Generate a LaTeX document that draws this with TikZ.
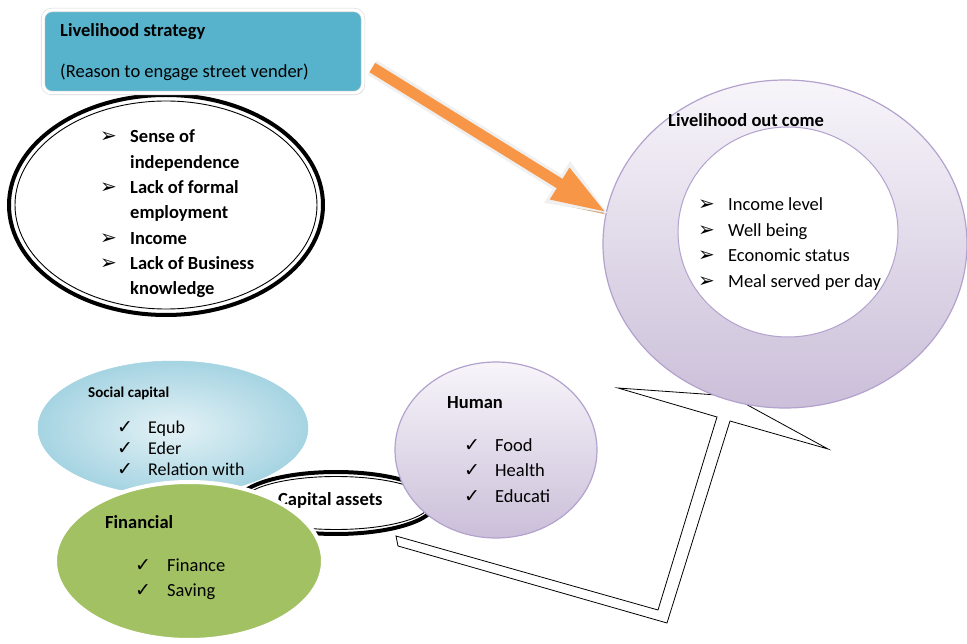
\documentclass[tikz,border=0pt]{standalone}
\usepackage{fontspec}
\setmainfont{Carlito}
\newfontfamily\dingfont{DejaVu Sans}
\usetikzlibrary{positioning,shapes.geometric,arrows.meta,shadows}

\definecolor{stratblue}{HTML}{56B3CB}
\definecolor{ringtop}{HTML}{F7F5FA}
\definecolor{ringbot}{HTML}{CBBFD9}
\definecolor{ringline}{HTML}{B2A2CD}
\definecolor{arroworange}{HTML}{F79646}
\definecolor{arrowshadow}{HTML}{D3AE88}
\definecolor{socialin}{HTML}{E4F2F6}
\definecolor{socialout}{HTML}{A6D4E2}
\definecolor{fingreen}{HTML}{A2C163}

\newcommand\arrmark{{\dingfont\fontsize{20}{20}\selectfont\char"27A2}}
\newcommand\chkmark{{\dingfont\fontsize{19}{19}\selectfont\char"2713}}

\begin{document}
\begin{tikzpicture}[x=1pt,y=-1pt,
  oval/.style={ellipse,inner sep=0pt,outer sep=0pt},
  ringfill/.style={oval,top color=ringtop,bottom color=ringbot,draw=ringline,line width=1.2pt},
  blackoval/.style={oval,draw=black,line width=#1},
  bodytext/.style={inner sep=0pt,font=\fontsize{18.5}{22}\selectfont},
  boldtext/.style={bodytext,font=\fontsize{18.5}{22}\selectfont\bfseries},
  smalltext/.style={inner sep=0pt,font=\fontsize{18}{21}\selectfont},
  bigarrow/.style={line width=11pt,-{Triangle[length=55pt,width=34pt]}},
]
\useasboundingbox (0,0) rectangle (967,644);

% ==== reasons (black oval) ====
\node[blackoval=4pt,minimum width=314pt,minimum height=220pt] (reasons) at (166,205) {};
\node[blackoval=0.9pt,minimum width=302pt,minimum height=208pt] (reasonsin) at (166,205) {};
\begin{scope}
  \clip (0,0) rectangle (967,298);
  \foreach \mk/\txt [count=\i] in {1/Sense of,0/independence,1/Lack of formal,0/employment,1/Income,1/Lack of Business,0/knowledge}{
    \node[boldtext,anchor=base west] (rsn\i) at (130,{143+25.3*(\i-1)}) {\txt};
    \ifnum\mk=1 \node[bodytext,anchor=base west] (rsnmk\i) at (100,{143+25.3*(\i-1)}) {\arrmark}; \fi
  }
\end{scope}

% ==== strategy box ====
\node[rectangle,rounded corners=9pt,fill=stratblue,draw=gray!30,line width=0.6pt,double=white,double distance=3pt,
  drop shadow={shadow xshift=1.5pt,shadow yshift=-2pt,fill=gray!45},
  minimum width=320pt,minimum height=83pt] (strategy) at (203,51.5) {};
\node[boldtext,anchor=base west] (strathead) at (60,37) {Livelihood strategy};
\node[bodytext,anchor=base west] (stratsub) at (60,78) {(Reason to engage street vender)};

% ==== callout to outcome ====
\draw[black,line width=0.8pt,fill=white,line join=miter]
  (731,396) -- (618,388) -- (717,417) -- (658,610) -- (396,536) -- (398,546)
  -- (667,623) -- (730,421) -- (828,449) -- cycle;

% ==== livelihood outcome ring ====
\node[ringfill,minimum width=364pt,minimum height=328pt] (outcome) at (785,244) {};
\node[oval,fill=white,draw=ringline,line width=1pt,minimum width=220pt,minimum height=210pt] (outcomein) at (788,232) {};
\node[boldtext,anchor=base west] (outhead) at (668,127) {Livelihood out come};
\foreach \txt [count=\i] in {Income level,Well being,Economic status,Meal served per day}{
  \node[bodytext,anchor=base west] (out\i) at (728,{211+25.4*(\i-1)}) {\txt};
  \node[bodytext,anchor=base west] (outmk\i) at (698,{211+25.4*(\i-1)}) {\arrmark};
}

% ==== orange arrow ====
\draw[bigarrow,arrowshadow,transform canvas={xshift=0.5pt,yshift=-3pt}] ([shift={(9,16)}]strategy.east) -- (outcome.170);
\draw[line width=17pt,gray!12,-{Triangle[length=62pt,width=44pt]},shorten >=-4pt] ([shift={(9,16)}]strategy.east) -- (outcome.170);
\draw[bigarrow,arroworange] ([shift={(9,16)}]strategy.east) -- (outcome.170);

% ==== social capital ====
\node[oval,inner color=socialin,outer color=socialout,draw=socialout,line width=0.5pt,minimum width=270pt,minimum height=134pt] (social) at (173,428) {};
\node[inner sep=0pt,font=\fontsize{15}{18}\selectfont\bfseries,anchor=base west] (socialhead) at (88,397) {Social capital};
\foreach \txt [count=\i] in {Equb,Eder,Relation with}{
  \node[smalltext,anchor=base west] (soc\i) at (148,{433+21*(\i-1)}) {\txt};
  \node[smalltext,anchor=base west] (socmk\i) at (117,{433+21*(\i-1)}) {\chkmark};
}

% ==== capital assets ====
\node[oval,fill=white,draw=black,line width=4pt,minimum width=198pt,minimum height=62pt] (capital) at (336,503) {};
\node[blackoval=0.9pt,minimum width=189pt,minimum height=53pt] (capitalin) at (336,503) {};
\node[boldtext,anchor=base west] (capitalhead) at (278,505) {Capital assets};

% ==== financial ====
\node[oval,fill=fingreen,draw=white,line width=4pt,drop shadow={shadow xshift=1pt,shadow yshift=-1.5pt,fill=gray!40},
  minimum width=268pt,minimum height=158pt] (financial) at (189,561) {};
\node[boldtext,anchor=base west] (finhead) at (105,528) {Financial};
\foreach \txt [count=\i] in {Finance,Saving}{
  \node[bodytext,anchor=base west] (fin\i) at (167,{571+25*(\i-1)}) {\txt};
  \node[bodytext,anchor=base west] (finmk\i) at (135,{571+25*(\i-1)}) {\chkmark};
}

% ==== human ====
\node[ringfill,minimum width=202pt,minimum height=176pt] (human) at (496,450) {};
\node[boldtext,anchor=base west] (humanhead) at (447,408) {Human};
\foreach \txt [count=\i] in {Food,Health,Educati}{
  \node[bodytext,anchor=base west] (hum\i) at (495,{451+25.5*(\i-1)}) {\txt};
  \node[bodytext,anchor=base west] (hummk\i) at (464,{451+25.5*(\i-1)}) {\chkmark};
}
\end{tikzpicture}
\end{document}
